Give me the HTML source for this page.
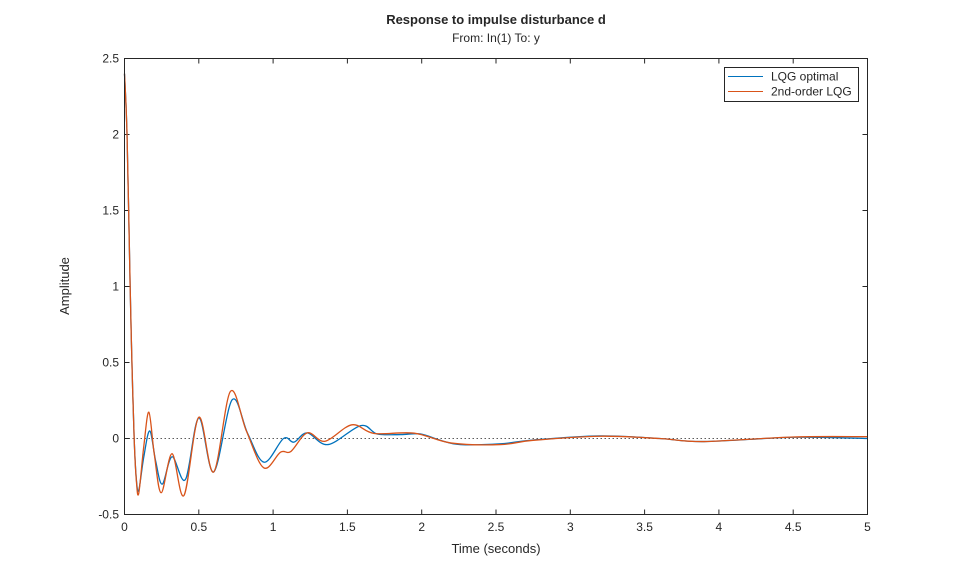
<!DOCTYPE html>
<html><head><meta charset="utf-8">
<style>
body{margin:0;background:#fff;}
svg text{font-family:"Liberation Sans",Arial,sans-serif;fill:#262626;}
</style></head>
<body>
<svg id="chart" width="959" height="577" viewBox="0 0 959 577">
  <rect x="0" y="0" width="959" height="577" fill="#fff"/>
  <text x="496" y="24" text-anchor="middle" font-size="13" font-weight="bold">Response to impulse disturbance d</text>
  <text x="496" y="42" text-anchor="middle" font-size="12">From: In(1)  To: y</text>
  <text x="496" y="553" text-anchor="middle" font-size="13">Time (seconds)</text>
  <text transform="translate(69,286) rotate(-90)" text-anchor="middle" font-size="13">Amplitude</text>
  <g id="ticks"></g>
  <g id="plot"></g>
  <rect x="124.5" y="58.5" width="743" height="456" fill="none" stroke="#262626" stroke-width="1"/>
  <g>
    <rect x="724.5" y="67.5" width="134" height="34" fill="#fff" stroke="#262626" stroke-width="1"/>
    <g>
      <line x1="728" y1="76.5" x2="763" y2="76.5" stroke="#0072BD" stroke-width="1"/>
      <text x="771" y="80.5" font-size="12">LQG optimal</text>
    </g>
    <g>
      <line x1="728" y1="91.5" x2="763" y2="91.5" stroke="#D95319" stroke-width="1"/>
      <text x="771" y="95.5" font-size="12">2nd-order LQG</text>
    </g>
  </g>
</svg>
<script>
const xTicks=[0,0.5,1,1.5,2,2.5,3,3.5,4,4.5,5];
const yTicks=[-0.5,0,0.5,1,1.5,2,2.5];
const blueT=[0,0.017,0.038,0.05,0.065,0.08,0.096,0.13,0.17,0.21,0.254,0.32,0.41,0.5,0.6,0.725,0.83,0.94,1.07,1.14,1.23,1.37,1.59,1.70,1.86,1.99,2.13,2.26,2.53,2.75,3.2,3.6,3.9,4.5,5];
const blueV=[2.4,2.0,1.0,0.5,0,-0.27,-0.34,-0.12,0.05,-0.15,-0.30,-0.12,-0.27,0.136,-0.22,0.255,0.03,-0.156,0,-0.024,0.037,-0.04,0.085,0.03,0.026,0.03,-0.013,-0.04,-0.035,-0.01,0.017,0,-0.02,0.008,0.0];
const orangeT=[0,0.017,0.038,0.05,0.065,0.08,0.096,0.13,0.164,0.2,0.247,0.32,0.40,0.5,0.6,0.713,0.82,0.937,1.05,1.12,1.23,1.35,1.53,1.68,1.95,2.2,2.53,2.75,3.2,3.6,3.9,4.5,5];
const orangeV=[2.40,2.0,1.0,0.5,0,-0.28,-0.36,-0.05,0.173,-0.1,-0.357,-0.10,-0.375,0.14,-0.22,0.31,0.05,-0.193,-0.09,-0.085,0.037,-0.018,0.09,0.033,0.035,-0.03,-0.04,-0.012,0.015,0,-0.02,0.01,0.012];

const X0=124.5,X1=867.5,Y0=514.5,Y1=58.5;
function sx(t){return X0+(t-0)/(5-0)*(X1-X0);}
function sy(v){return Y0-(v+0.5)/3*(Y0-Y1);}
const NS='http://www.w3.org/2000/svg';
const tickG=document.getElementById('ticks');
function mk(tag,attrs,parent){const e=document.createElementNS(NS,tag);for(const k in attrs)e.setAttribute(k,attrs[k]);parent.appendChild(e);return e;}
xTicks.forEach(t=>{
  const x=sx(t);
  const l=mk('line',{x1:x,y1:Y0,x2:x,y2:Y0-5,stroke:'#262626'},tickG);
  
  
  const l2=mk('line',{x1:x,y1:Y1,x2:x,y2:Y1+5,stroke:'#262626'},tickG);
  
  
  const tx=mk('text',{x:x,y:531,'text-anchor':'middle','font-size':'12'},tickG);
  tx.textContent=String(t);
  
  
});
yTicks.forEach(v=>{
  const y=sy(v);
  const l=mk('line',{x1:X0,y1:y,x2:X0+5,y2:y,stroke:'#262626'},tickG);
  
  
  const l2=mk('line',{x1:X1,y1:y,x2:X1-5,y2:y,stroke:'#262626'},tickG);
  
  
  const tx=mk('text',{x:119,y:y+4,'text-anchor':'end','font-size':'12'},tickG);
  tx.textContent=String(v);
  
  
});
const plot=document.getElementById('plot');
const zl=mk('line',{x1:X0,y1:sy(0),x2:X1,y2:sy(0),stroke:'#262626','stroke-width':'0.8','stroke-dasharray':'1.5,2.5'},plot);


function path(T,V){
  const P=T.map((t,i)=>[sx(t),sy(V[i])]);
  let d='M'+P[0][0]+','+P[0][1];
  for(let i=0;i<P.length-1;i++){
    const p0=P[Math.max(0,i-1)],p1=P[i],p2=P[i+1],p3=P[Math.min(P.length-1,i+2)];
    const c1=[p1[0]+(p2[0]-p0[0])/6,p1[1]+(p2[1]-p0[1])/6];
    const c2=[p2[0]-(p3[0]-p1[0])/6,p2[1]-(p3[1]-p1[1])/6];
    d+=' C'+c1[0]+','+c1[1]+' '+c2[0]+','+c2[1]+' '+p2[0]+','+p2[1];
  }
  return d;
}
const pb=mk('path',{d:path(blueT,blueV),fill:'none',stroke:'#0072BD','stroke-width':'1.3'},plot);


const po=mk('path',{d:path(orangeT,orangeV),fill:'none',stroke:'#D95319','stroke-width':'1.3'},plot);


</script>
</body></html>
